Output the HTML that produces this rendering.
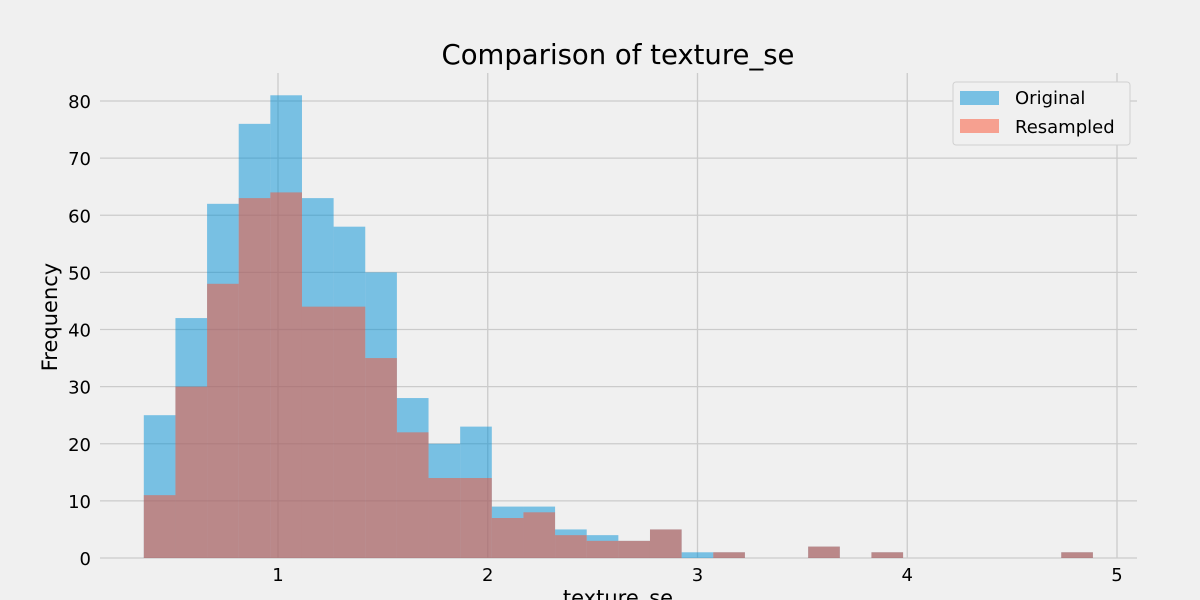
<!DOCTYPE html>
<html><head><meta charset="utf-8"><style>
body{margin:0;background:#f0f0f0;}
svg{display:block;font-family:"DejaVu Sans","Liberation Sans",sans-serif;}
</style></head><body>
<svg id="chart" width="1200" height="600" viewBox="0 0 1200 600">
<rect width="1200" height="600" fill="#f0f0f0"/>
<g id="grid"></g><g id="bars"></g><g id="ticks"></g>
<text x="618" y="64" text-anchor="middle" font-size="27.5" fill="#000">Comparison of texture_se</text>
<text transform="translate(57,317) rotate(-90)" text-anchor="middle" font-size="21" fill="#000">Frequency</text>
<text x="618" y="605" text-anchor="middle" font-size="21" fill="#000">texture_se</text>
<g>
<rect x="953" y="82" width="177" height="63" rx="3" fill="#f0f0f0" stroke="#d0d0d0"/>
<rect x="960" y="91" width="39" height="14" fill="#008fd5" fill-opacity="0.5"/>
<text x="1015" y="104" font-size="18">Original</text>
<rect x="960" y="119" width="39" height="14" fill="#fc4f30" fill-opacity="0.5"/>
<text x="1015" y="133" font-size="18">Resampled</text>
</g>
</svg>
<script>
const binStart = 0.3602;
const binWidth = 0.15083;
const originalCounts = [25,42,62,76,81,63,58,50,28,20,23,9,9,5,4,3,5,1,1,0,0,2,0,1,0,0,0,0,0,1];
const resampledCounts = [11,30,48,63,64,44,44,35,22,14,14,7,8,4,3,3,5,0,1,0,0,2,0,1,0,0,0,0,0,1];
const xTicks = [1,2,3,4,5];
const yTicks = [0,10,20,30,40,50,60,70,80];

const NS="http://www.w3.org/2000/svg";
const X0=100,X1=1137,Y0=558,Y1=73;
function xs(v){return 278+(v-1)*209.75;}
function ys(v){return 558-v*5.7125;}
function mk(tag,attrs,parent){const e=document.createElementNS(NS,tag);for(const k in attrs)e.setAttribute(k,attrs[k]);parent.appendChild(e);return e;}
const grid=document.getElementById('grid'),bars=document.getElementById('bars'),ticks=document.getElementById('ticks');
yTicks.forEach(t=>{
  const l=mk('line',{x1:X0,x2:X1,y1:ys(t),y2:ys(t),stroke:'#cbcbcb','stroke-width':1.3},grid);
  
  
  const tx=mk('text',{x:91,y:ys(t)+7,'text-anchor':'end','font-size':18,fill:'#000'},ticks);
  tx.textContent=t;
  
  
});
xTicks.forEach(t=>{
  const l=mk('line',{x1:xs(t),x2:xs(t),y1:Y1,y2:Y0,stroke:'#cbcbcb','stroke-width':1.3},grid);
  
  
  const tx=mk('text',{x:xs(t),y:581,'text-anchor':'middle','font-size':18,fill:'#000'},ticks);
  tx.textContent=t;
  
  
});
function drawSeries(counts,color,name){
  counts.forEach((c,i)=>{
    if(c<=0)return;
    const a=xs(binStart+i*binWidth),b=xs(binStart+(i+1)*binWidth);
    const r=mk('rect',{x:a,y:ys(c),width:b-a,height:ys(0)-ys(c),fill:color,'fill-opacity':0.5},bars);
    
    
  });
}
drawSeries(originalCounts,'#008fd5','bar-original');
drawSeries(resampledCounts,'#fc4f30','bar-resampled');
</script>
</body></html>
